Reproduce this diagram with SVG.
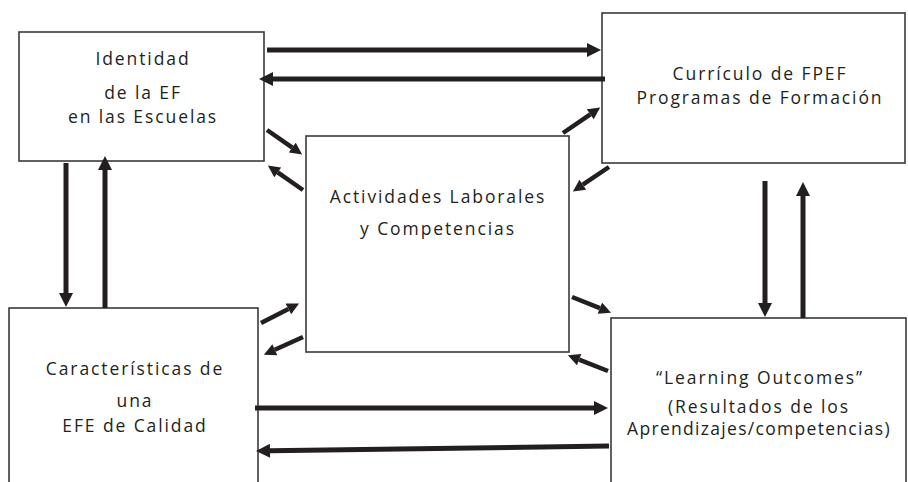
<svg xmlns="http://www.w3.org/2000/svg" width="908" height="482" viewBox="0 0 908 482">
<style>
.box{fill:#fff;stroke:#3a3a3a;stroke-width:1.6}
.t{font-family:"Open Sans","Liberation Sans",sans-serif;font-size:17.5px;letter-spacing:1.9px;fill:#231f20;text-anchor:middle}
.a{fill:none;stroke:#231f20;stroke-width:5;marker-end:url(#h)}
.d{fill:none;stroke:#231f20;stroke-width:4.5;marker-end:url(#hs)}
</style>
<defs>
<marker id="h" viewBox="0 0 10 10" refX="0" refY="5" markerWidth="15" markerHeight="14" markerUnits="userSpaceOnUse" orient="auto"><path d="M0,0 L10,5 L0,10 Z" fill="#231f20"/></marker>
<marker id="hs" viewBox="0 0 10 10" refX="0" refY="5" markerWidth="13" markerHeight="12" markerUnits="userSpaceOnUse" orient="auto"><path d="M0,0 L10,5 L0,10 Z" fill="#231f20"/></marker>
</defs>
<rect width="908" height="482" fill="#fff"/>
<g id="identidad">
<rect class="box" x="19" y="32" width="245" height="129"/>
<text class="t" x="143" y="65">Identidad</text>
<text class="t" x="143" y="99">de la EF</text>
<text class="t" x="143" y="123">en las Escuelas</text>
</g>
<g id="curriculo">
<rect class="box" x="602" y="13" width="303" height="150"/>
<text class="t" x="760" y="80">Currículo de FPEF</text>
<text class="t" x="760" y="104">Programas de Formación</text>
</g>
<g id="actividades">
<rect class="box" x="306" y="136" width="263" height="216"/>
<text class="t" x="438" y="203">Actividades Laborales</text>
<text class="t" x="438" y="235">y Competencias</text>
</g>
<g id="caracteristicas">
<rect class="box" x="9" y="308" width="249" height="190"/>
<text class="t" x="135" y="375">Características de</text>
<text class="t" x="135" y="407">una</text>
<text class="t" x="135" y="432">EFE de Calidad</text>
</g>
<g id="learning">
<rect class="box" x="611" y="318" width="295" height="180"/>
<text class="t" x="760" y="384">“Learning Outcomes”</text>
<text class="t" x="759" y="413">(Resultados de los</text>
<text class="t" x="759" y="435" style="letter-spacing:1.3px">Aprendizajes/competencias)</text>
</g>
<g id="connectors">
<path class="a" d="M267,50 H587"/>
<path class="a" d="M605,79 H273"/>
<path class="a" d="M66,163 V293"/>
<path class="a" d="M105,308 V170"/>
<path class="a" d="M765,181 V303"/>
<path class="a" d="M803,318 V196"/>
<path class="a" d="M255,408 H594"/>
<path class="a" d="M609,446 L270,450.8"/>
<path class="d" d="M267,130 L292.3,147.6"/>
<path class="d" d="M303,190 L277.7,172.4"/>
<path class="d" d="M563,133 L590.3,114.3"/>
<path class="d" d="M609,167 L582.8,184.7"/>
<path class="d" d="M261,323 L288.4,308.9"/>
<path class="d" d="M303,337 L274.8,349.7"/>
<path class="d" d="M572,297 L599.9,308.2"/>
<path class="d" d="M608,371 L579.1,359.7"/>
</g>
</svg>
